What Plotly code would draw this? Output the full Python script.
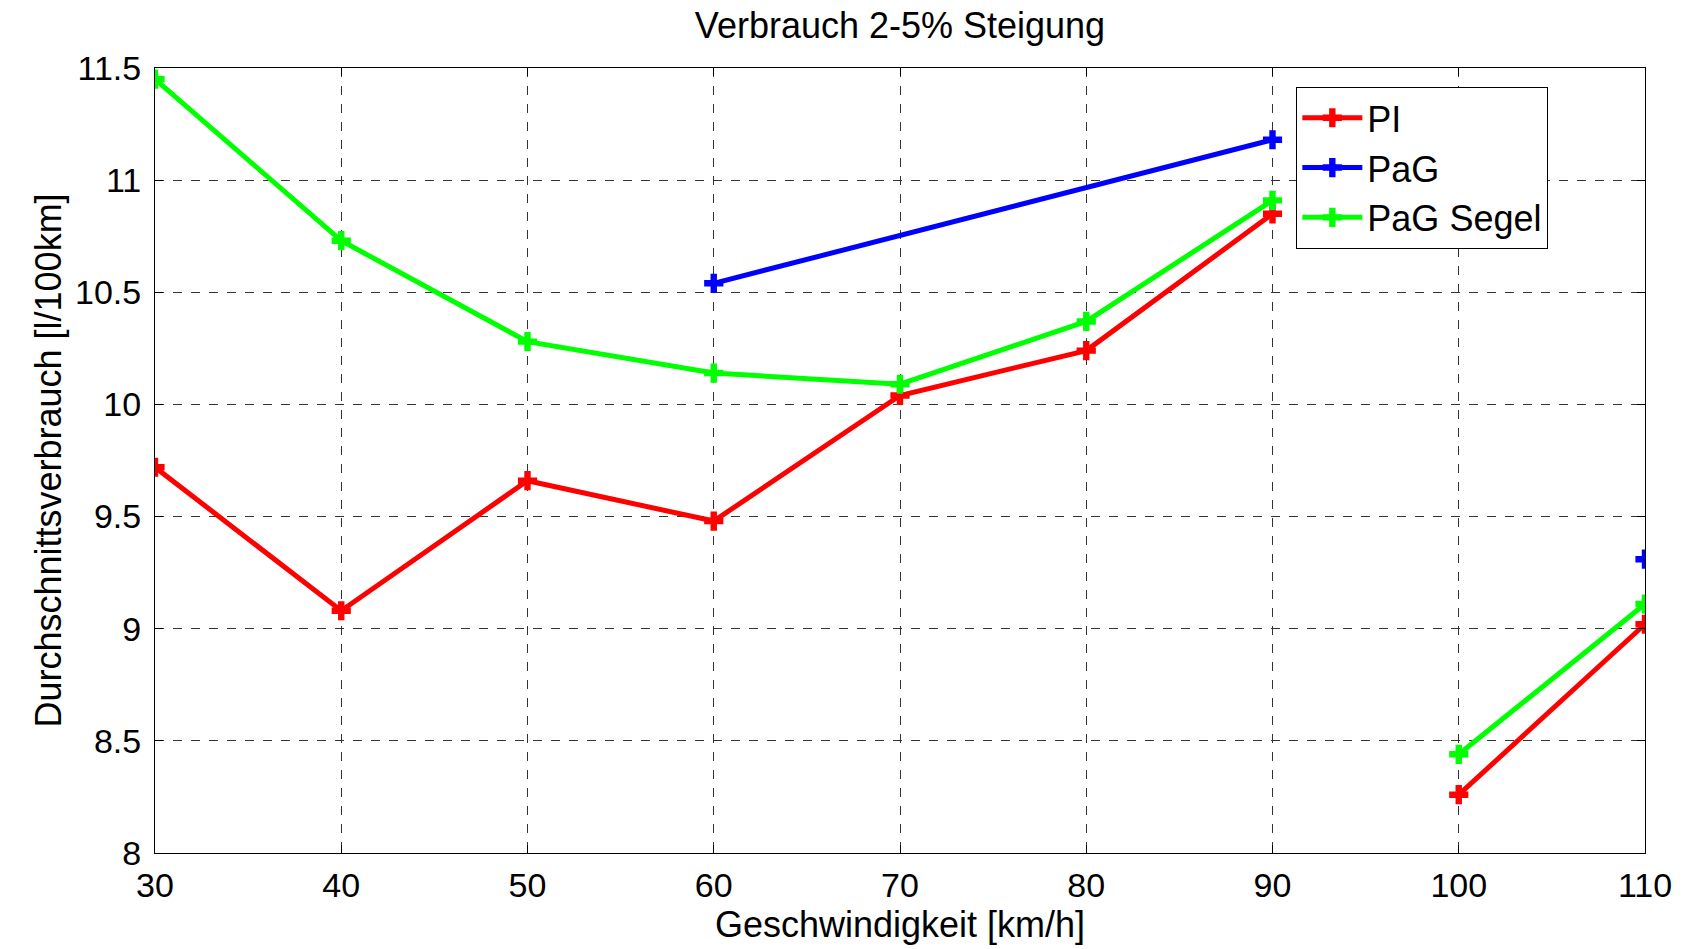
import plotly.graph_objects as go

speeds = [30, 40, 50, 60, 70, 80, 90, 95, 100, 110]
pi_vals = [9.72, 9.08, 9.66, 9.48, 10.04, 10.24, 10.85, None, 8.26, 9.02]
segel_vals = [11.45, 10.73, 10.28, 10.14, 10.09, 10.37, 10.91, None, 8.44, 9.11]
pag_speeds = [60, 90, 100, 110]
pag_vals = [10.54, 11.18, None, 9.31]

font = "Liberation Sans, Arial, sans-serif"

fig = go.Figure()
def add(x, y, name, color):
    fig.add_trace(go.Scatter(
        x=x, y=y, name=name, mode="lines+markers",
        line=dict(color=color, width=5),
        marker=dict(symbol="cross", size=16, color=color, line=dict(width=0)),
        connectgaps=False,
    ))

add(speeds, pi_vals, "PI", "#ff0000")
add(pag_speeds, pag_vals, "PaG", "#0000ff")
add(speeds, segel_vals, "PaG Segel", "#00ff00")

axis_common = dict(
    showline=True, linecolor="black", linewidth=1, mirror="ticks",
    ticks="inside", ticklen=8, tickcolor="black",
    showgrid=True, gridcolor="#333333", griddash="dash", gridwidth=1,
    zeroline=False, tickfont=dict(family=font, size=34, color="black"),
)

fig.update_layout(
    width=1684, height=949,
    paper_bgcolor="white", plot_bgcolor="white",
    margin=dict(l=155, r=39, t=68, b=96),
    title=dict(text="Verbrauch 2-5% Steigung", x=0.5, xref="paper", xanchor="center",
               y=0.973, yanchor="middle",
               font=dict(family=font, size=36, color="black")),
    xaxis=dict(range=[30, 110], tickvals=[30, 40, 50, 60, 70, 80, 90, 100, 110],
               title=dict(text="Geschwindigkeit [km/h]", standoff=6,
                          font=dict(family=font, size=36, color="black")),
               ticklabelstandoff=2,
               **axis_common),
    yaxis=dict(range=[8, 11.5], tickvals=[8, 8.5, 9, 9.5, 10, 10.5, 11, 11.5],
               ticktext=["8", "8.5", "9", "9.5", "10", "10.5", "11", "11.5"],
               title=dict(text="Durchschnittsverbrauch [l/100km]", standoff=2,
                          font=dict(family=font, size=36, color="black")),
               ticklabelstandoff=6,
               **axis_common),
    legend=dict(x=0.766, y=0.976, xanchor="left", yanchor="top",
                bgcolor="white", bordercolor="black", borderwidth=1,
                font=dict(family=font, size=36, color="black"),
                itemwidth=60, tracegroupgap=8),
    showlegend=True,
)

fig.write_html("out.html")
